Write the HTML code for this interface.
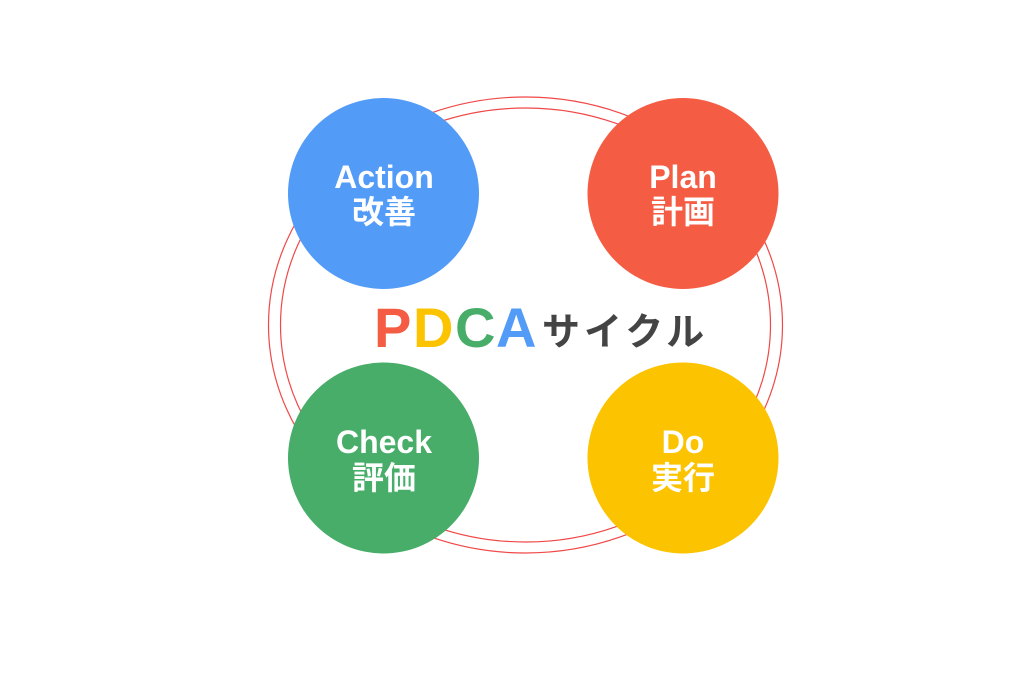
<!DOCTYPE html>
<html><head><meta charset="utf-8"><style>
html,body{margin:0;padding:0;background:#fff;}
</style></head><body>
<svg width="1024" height="683" viewBox="0 0 1024 683" xmlns="http://www.w3.org/2000/svg">
<rect width="1024" height="683" fill="#fff"/>
<ellipse cx="525.5" cy="325" rx="257" ry="228" fill="none" stroke="#f04848" stroke-width="1.2"/>
<ellipse cx="525.5" cy="325" rx="245" ry="217" fill="none" stroke="#f04848" stroke-width="1.2"/>
<circle cx="383.5" cy="193.5" r="95.5" fill="#529bf7"/>
<circle cx="683" cy="193.5" r="95.5" fill="#f55c44"/>
<circle cx="383.5" cy="458" r="95.5" fill="#47ad69"/>
<circle cx="683" cy="458" r="95.5" fill="#fbc300"/>
<g font-family="'Liberation Sans','Noto Sans CJK JP',sans-serif" font-weight="bold" fill="#fff" text-anchor="middle" font-size="32">
<text x="384" y="188">Action</text><text x="384" y="223">改善</text>
<text x="683" y="188">Plan</text><text x="683" y="223">計画</text>
<text x="384" y="453">Check</text><text x="384" y="489">評価</text>
<text x="683" y="453">Do</text><text x="683" y="489">実行</text>
</g>
<g font-family="'Liberation Sans','Noto Sans CJK JP',sans-serif" font-weight="bold" font-size="56">
<text x="374" y="347" fill="#f55c44">P</text>
<text x="413" y="347" fill="#fbc300">D</text>
<text x="455" y="347" fill="#47ad69">C</text>
<text x="496" y="347" fill="#529bf7">A</text>
</g>
<text x="542" y="345" font-family="'Noto Sans CJK JP',sans-serif" font-weight="bold" font-size="38" fill="#444" letter-spacing="4">サイクル</text>
</svg>
</body></html>
